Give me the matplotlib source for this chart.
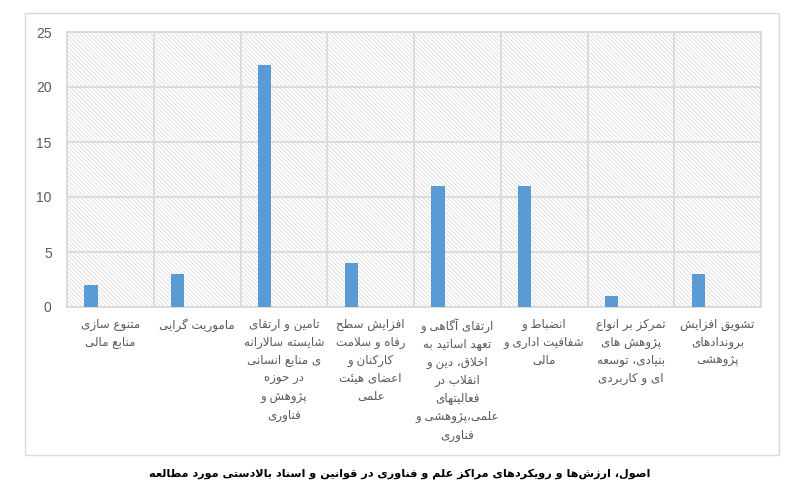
import matplotlib
matplotlib.use("Agg")
import matplotlib.pyplot as plt
from matplotlib.patches import Rectangle
import numpy as np

# ---------------- data ----------------
categories = [
    "متنوع سازی\nمنابع مالی",
    "ماموریت گرایی",
    "تامین و ارتقای\nشایسته سالارانه\nی منابع انسانی\nدر حوزه\nپژوهش و\nفناوری",
    "افزایش سطح\nرفاه و سلامت\nکارکنان و\nاعضای هیئت\nعلمی",
    "ارتقای آگاهی و\nتعهد اساتید به\nاخلاق، دین و\nانقلاب در\nفعالیتهای\nعلمی،پژوهشی و\nفناوری",
    "انضباط و\nشفافیت اداری و\nمالی",
    "تمرکز بر انواع\nپژوهش های\nبنیادی، توسعه\nای و کاربردی",
    "تشویق افزایش\nبروندادهای\nپژوهشی",
]
values = [2, 3, 22, 4, 11, 11, 1, 3]
y_ticks = [0, 5, 10, 15, 20, 25]
title = "اصول، ارزش\u200cها و رویکردهای مراکز علم و فناوری در قوانین و اسناد بالادستی مورد مطالعه"

# ---------------- minimal Arabic/Persian shaping ----------------
FORMS = {
    '\u0627': ('\uFE8D', '\uFE8E', None, None),
    '\u0622': ('\uFE81', '\uFE82', None, None),
    '\u0628': ('\uFE8F', '\uFE90', '\uFE91', '\uFE92'),
    '\u067E': ('\uFB56', '\uFB57', '\uFB58', '\uFB59'),
    '\u062A': ('\uFE95', '\uFE96', '\uFE97', '\uFE98'),
    '\u062B': ('\uFE99', '\uFE9A', '\uFE9B', '\uFE9C'),
    '\u062C': ('\uFE9D', '\uFE9E', '\uFE9F', '\uFEA0'),
    '\u0686': ('\uFB7A', '\uFB7B', '\uFB7C', '\uFB7D'),
    '\u062D': ('\uFEA1', '\uFEA2', '\uFEA3', '\uFEA4'),
    '\u062E': ('\uFEA5', '\uFEA6', '\uFEA7', '\uFEA8'),
    '\u062F': ('\uFEA9', '\uFEAA', None, None),
    '\u0630': ('\uFEAB', '\uFEAC', None, None),
    '\u0631': ('\uFEAD', '\uFEAE', None, None),
    '\u0632': ('\uFEAF', '\uFEB0', None, None),
    '\u0698': ('\uFB8A', '\uFB8B', None, None),
    '\u0633': ('\uFEB1', '\uFEB2', '\uFEB3', '\uFEB4'),
    '\u0634': ('\uFEB5', '\uFEB6', '\uFEB7', '\uFEB8'),
    '\u0635': ('\uFEB9', '\uFEBA', '\uFEBB', '\uFEBC'),
    '\u0636': ('\uFEBD', '\uFEBE', '\uFEBF', '\uFEC0'),
    '\u0637': ('\uFEC1', '\uFEC2', '\uFEC3', '\uFEC4'),
    '\u0638': ('\uFEC5', '\uFEC6', '\uFEC7', '\uFEC8'),
    '\u0639': ('\uFEC9', '\uFECA', '\uFECB', '\uFECC'),
    '\u063A': ('\uFECD', '\uFECE', '\uFECF', '\uFED0'),
    '\u0641': ('\uFED1', '\uFED2', '\uFED3', '\uFED4'),
    '\u0642': ('\uFED5', '\uFED6', '\uFED7', '\uFED8'),
    '\u06A9': ('\uFB8E', '\uFB8F', '\uFB90', '\uFB91'),
    '\u06AF': ('\uFB92', '\uFB93', '\uFB94', '\uFB95'),
    '\u0644': ('\uFEDD', '\uFEDE', '\uFEDF', '\uFEE0'),
    '\u0645': ('\uFEE1', '\uFEE2', '\uFEE3', '\uFEE4'),
    '\u0646': ('\uFEE5', '\uFEE6', '\uFEE7', '\uFEE8'),
    '\u0647': ('\uFEE9', '\uFEEA', '\uFEEB', '\uFEEC'),
    '\u0648': ('\uFEED', '\uFEEE', None, None),
    '\u06CC': ('\uFBFC', '\uFBFD', '\uFBFE', '\uFBFF'),
    '\u0626': ('\uFE89', '\uFE8A', '\uFE8B', '\uFE8C'),
}
LAM_ALEF = {'\u0627': ('\uFEFB', '\uFEFC'), '\u0622': ('\uFEF5', '\uFEF6')}


def is_dual(c):
    return c in FORMS and FORMS[c][2] is not None


def shape_line(s):
    units = []
    i = 0
    while i < len(s):
        c = s[i]
        if c == '\u0644' and i + 1 < len(s) and s[i + 1] in LAM_ALEF:
            units.append(('LA', s[i + 1]))
            i += 2
        else:
            units.append(('C', c))
            i += 1

    def jtype(u):
        kind, c = u
        if kind == 'LA':
            return 'D_in'
        if c in FORMS:
            return 'D' if is_dual(c) else 'R'
        return 'U'

    out = []
    for k, u in enumerate(units):
        kind, c = u
        prev = units[k - 1] if k > 0 else None
        nxt = units[k + 1] if k + 1 < len(units) else None
        t = jtype(u)
        prev_j = prev is not None and jtype(prev) == 'D' and t in ('D', 'R', 'D_in')
        if kind == 'LA':
            out.append(LAM_ALEF[c][1] if prev_j else LAM_ALEF[c][0])
            continue
        if t == 'U':
            if c != '\u200c':
                out.append(c)
            continue
        next_j = t == 'D' and nxt is not None and jtype(nxt) in ('D', 'R', 'D_in')
        iso, fin, ini, med = FORMS[c]
        if prev_j and next_j:
            out.append(med)
        elif prev_j:
            out.append(fin)
        elif next_j:
            out.append(ini)
        else:
            out.append(iso)
    return ''.join(out)[::-1]


def rtl(text):
    return '\n'.join(shape_line(l) for l in text.split('\n'))


# ---------------- figure ----------------
W, H = 811, 501
fig = plt.figure(figsize=(W / 100, H / 100), dpi=100)

# outer chart border
fig.patches.append(Rectangle((25 / W, 1 - 455 / H), (779 - 25) / W, (455 - 13) / H,
                             transform=fig.transFigure, facecolor='none',
                             edgecolor='#d9d9d9', lw=1.0, zorder=0))

ax = fig.add_axes([67 / W, 1 - 307 / H, (761 - 67) / W, (307 - 32) / H])
ax.set_facecolor('none')

plt.rcParams['hatch.linewidth'] = 0.6
ax.add_patch(Rectangle((0, 0), 1, 1, transform=ax.transAxes, facecolor='white',
                       edgecolor='#dcdcdc', hatch='\\' * 8, lw=0, zorder=0.1))

n = len(values)
x = np.arange(n)
ax.bar(x - 0.224, values, width=0.153, color='#5B9BD5', zorder=3)

ax.set_xlim(-0.5, n - 0.5)
ax.set_ylim(0, 25)
ax.set_yticks(y_ticks)
ax.set_yticklabels([str(v) for v in y_ticks], fontsize=10, color='#595959',
                   family='Liberation Sans')
ax.set_xticks(x)
ax.set_xticklabels([rtl(c) for c in categories], fontsize=8.6, color='#595959',
                   family='DejaVu Sans', linespacing=1.5, va='top')
ax.set_xticks(np.arange(-0.5, n, 1.0), minor=True)
ax.tick_params(axis='both', which='both', length=0)
ax.tick_params(axis='y', pad=11)
ax.tick_params(axis='x', pad=8)

ax.grid(axis='y', which='major', color='#d9d9d9', lw=1.3, zorder=1)
ax.grid(axis='x', which='minor', color='#d9d9d9', lw=1.3, zorder=1)
ax.grid(axis='x', which='major', visible=False)
ax.set_axisbelow(True)
for sp in ax.spines.values():
    sp.set_color('#d9d9d9')
    sp.set_linewidth(1.3)

fig.text(400 / W, 1 - 474 / H, rtl(title), ha='center', va='center',
         fontsize=8.1, fontweight='bold', color='black', family='DejaVu Sans')

fig.savefig('out.png', dpi=100, facecolor='white')
